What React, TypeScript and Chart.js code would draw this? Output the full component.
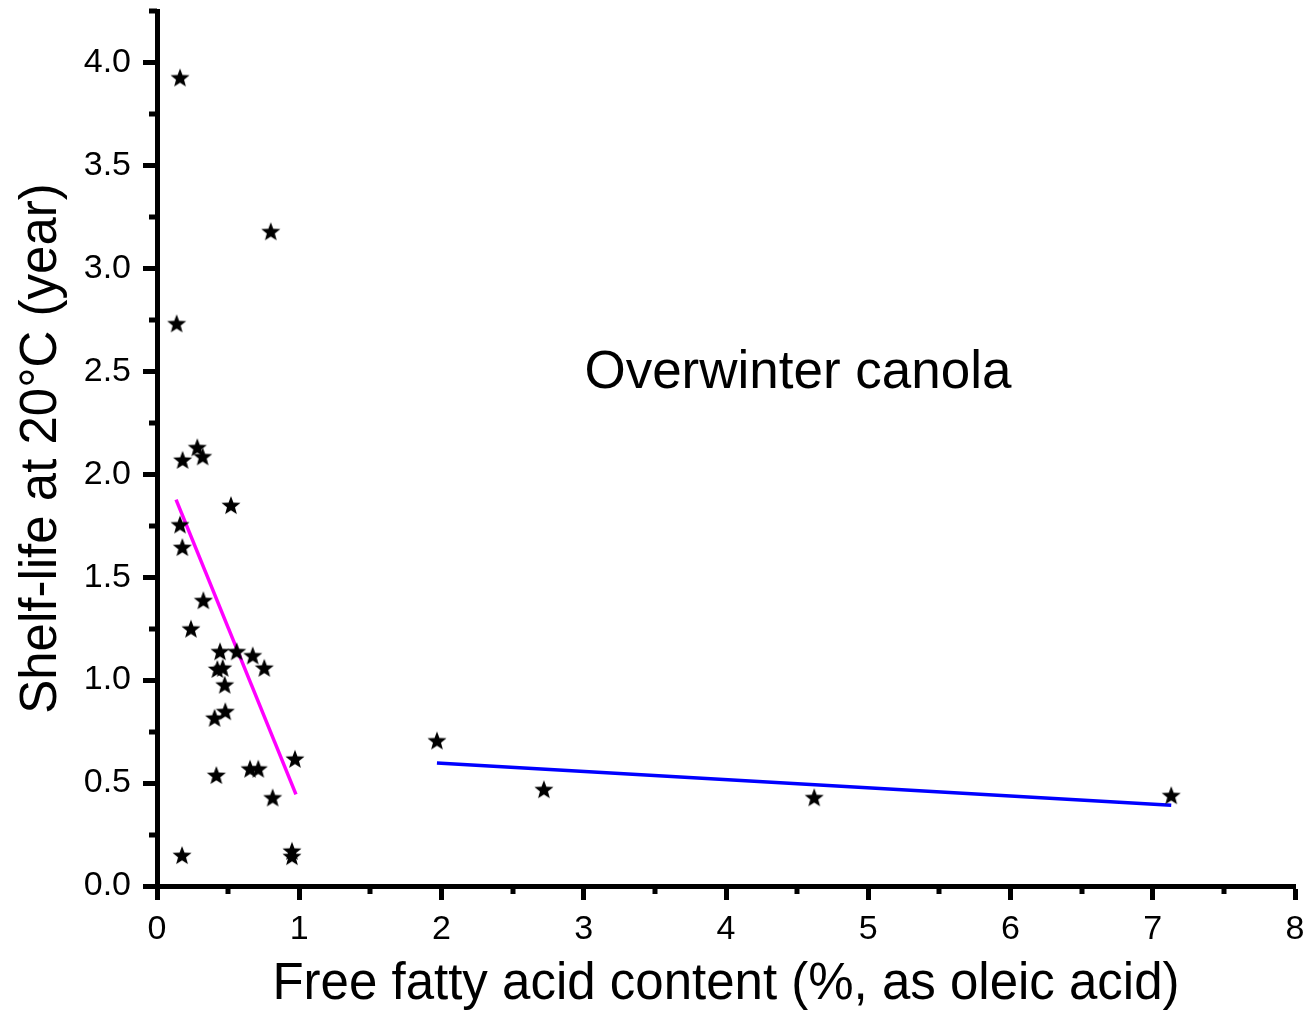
import React, { useEffect, useRef } from 'react';
import { Chart, registerables } from 'chart.js';

Chart.register(...registerables);

// ---- Data ----
const ffaContent = [
  0.162, 0.80, 0.138, 0.283, 0.321, 0.18, 0.52, 0.162, 0.178, 0.326, 0.239,
  0.443, 0.56, 0.673, 0.754, 0.424, 0.462, 0.476, 0.48, 0.405, 0.97, 0.654,
  0.712, 0.417, 0.813, 0.176, 0.949, 0.949, 1.968, 2.72, 4.62, 7.13,
];
const shelfLife = [
  3.927, 3.18, 2.733, 2.131, 2.087, 2.07, 1.85, 1.756, 1.646, 1.388, 1.25,
  1.14, 1.14, 1.12, 1.06, 1.054, 1.06, 0.978, 0.849, 0.817, 0.618, 0.57,
  0.57, 0.539, 0.43, 0.15, 0.171, 0.145, 0.707, 0.47, 0.431, 0.441,
];
const fitLowX = [0.134, 0.977];
const fitLowY = [1.877, 0.445];
const fitHighX = [1.968, 7.13];
const fitHighY = [0.597, 0.392];

const xMinorTicks = [0.5, 1.5, 2.5, 3.5, 4.5, 5.5, 6.5, 7.5];
const yMinorTicks = [0.25, 0.75, 1.25, 1.75, 2.25, 2.75, 3.25, 3.75, 4.25];

const xTitle = 'Free fatty acid content (%, as oleic acid)';
const yTitle = 'Shelf-life at 20°C (year)';
const annotationText = 'Overwinter canola';
const annotationX = 4.506;
const annotationY = 2.421;

const FONT = "'Liberation Sans', Arial, sans-serif";

function makeStar(size: number, R: number): HTMLCanvasElement {
  const c = document.createElement('canvas');
  c.width = size;
  c.height = size;
  const ctx = c.getContext('2d')!;
  const cx = size / 2;
  const cy = size / 2 + R * 0.095;
  const r = R * 0.42;
  ctx.beginPath();
  for (let i = 0; i < 10; i++) {
    const a = -Math.PI / 2 + (i * Math.PI) / 5;
    const rad = i % 2 === 0 ? R : r;
    ctx.lineTo(cx + rad * Math.cos(a), cy + rad * Math.sin(a));
  }
  ctx.closePath();
  ctx.fillStyle = '#000';
  ctx.fill();
  return c;
}

const minorTicksPlugin = {
  id: 'minorTicks',
  afterDraw(chart: any) {
    const { ctx } = chart;
    const x = chart.scales.x;
    const y = chart.scales.y;
    ctx.save();
    ctx.strokeStyle = '#000';
    ctx.lineWidth = 5;
    ctx.beginPath();
    for (const v of xMinorTicks) {
      const px = Math.round(x.getPixelForValue(v));
      ctx.moveTo(px, x.top);
      ctx.lineTo(px, x.top + 8);
    }
    for (const v of yMinorTicks) {
      const py = Math.round(y.getPixelForValue(v));
      ctx.moveTo(y.right, py);
      ctx.lineTo(y.right - 8, py);
    }
    ctx.stroke();
    ctx.restore();
  },
};

const annotationPlugin = {
  id: 'textAnnotation',
  afterDatasetsDraw(chart: any) {
    const { ctx } = chart;
    const x = chart.scales.x.getPixelForValue(annotationX);
    const y = chart.scales.y.getPixelForValue(annotationY);
    ctx.save();
    ctx.font = `53px ${FONT}`;
    ctx.fillStyle = '#000';
    ctx.textAlign = 'center';
    ctx.textBaseline = 'alphabetic';
    ctx.fillText(annotationText, x, y);
    ctx.restore();
  },
};

function zeroPadding(scale: any) {
  scale.paddingTop = 0;
  scale.paddingBottom = 0;
  scale.paddingLeft = 0;
  scale.paddingRight = 0;
}

export default function App() {
  const canvasRef = useRef<HTMLCanvasElement | null>(null);

  useEffect(() => {
    const canvas = canvasRef.current;
    if (!canvas) return;
    const star = makeStar(22, 10);

    const chart = new Chart(canvas, {
      type: 'scatter',
      data: {
        datasets: [
          {
            label: 'Overwinter canola',
            data: ffaContent.map((v, i) => ({ x: v, y: shelfLife[i] })),
            pointStyle: star as any,
            pointRadius: 10,
            backgroundColor: '#000',
            borderColor: '#000',
            showLine: false,
            order: 0,
          },
          {
            label: 'Fit low',
            data: fitLowX.map((v, i) => ({ x: v, y: fitLowY[i] })),
            showLine: true,
            borderColor: '#ff00ff',
            borderWidth: 3.5,
            pointRadius: 0,
            order: 1,
          },
          {
            label: 'Fit high',
            data: fitHighX.map((v, i) => ({ x: v, y: fitHighY[i] })),
            showLine: true,
            borderColor: '#0000ff',
            borderWidth: 3.5,
            pointRadius: 0,
            order: 1,
          },
        ],
      },
      options: {
        animation: false,
        responsive: false,
        devicePixelRatio: 1,
        layout: { padding: { top: 7, right: 12, left: 0, bottom: 0 } },
        plugins: {
          legend: { display: false },
          tooltip: { enabled: false },
        },
        scales: {
          x: {
            type: 'linear',
            min: 0,
            max: 8,
            afterFit: (scale: any) => {
              scale.height = 130;
              zeroPadding(scale);
            },
            ticks: {
              stepSize: 1,
              includeBounds: false,
              color: '#000',
              font: { family: FONT, size: 34 },
              padding: 9,
              maxRotation: 0,
            },
            grid: {
              display: true,
              drawOnChartArea: false,
              drawTicks: true,
              tickLength: 14,
              tickWidth: 5,
              tickColor: '#000',
            },
            border: { display: true, color: '#000', width: 5 },
            title: {
              display: true,
              text: xTitle,
              color: '#000',
              font: { family: FONT, size: 51, lineHeight: 1.2 },
              padding: { top: 0, bottom: 0 },
            },
          },
          y: {
            type: 'linear',
            min: 0,
            max: 4.25,
            afterFit: (scale: any) => {
              scale.width = 157;
              zeroPadding(scale);
            },
            ticks: {
              stepSize: 0.5,
              includeBounds: false,
              color: '#000',
              font: { family: FONT, size: 34 },
              padding: 12,
              callback: (v: any) => Number(v).toFixed(1),
            },
            grid: {
              display: true,
              drawOnChartArea: false,
              drawTicks: true,
              tickLength: 14,
              tickWidth: 5,
              tickColor: '#000',
            },
            border: { display: true, color: '#000', width: 5 },
            title: {
              display: true,
              text: yTitle,
              color: '#000',
              font: { family: FONT, size: 51, lineHeight: 1.2 },
              padding: { top: 11, bottom: 0 },
            },
          },
        },
      },
      plugins: [minorTicksPlugin, annotationPlugin],
    } as any);

    return () => {
      chart.destroy();
    };
  }, []);

  return (
    <div style={{ position: 'absolute', left: 0, top: 0, width: 1307, height: 1016, background: '#fff' }}>
      <canvas ref={canvasRef} width={1307} height={1016} style={{ display: 'block' }} />
    </div>
  );
}
